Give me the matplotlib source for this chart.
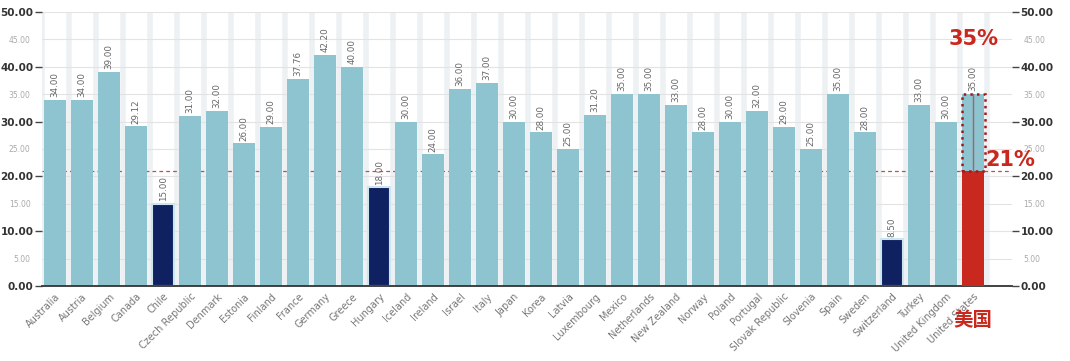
import matplotlib
matplotlib.use('Agg')
import matplotlib.pyplot as plt
from matplotlib.ticker import MultipleLocator
import numpy as np

plt.rcParams['font.family'] = ['DejaVu Sans', 'Noto Sans CJK SC']

countries = ['Australia', 'Austria', 'Belgium', 'Canada', 'Chile', 'Czech Republic', 'Denmark',
             'Estonia', 'Finland', 'France', 'Germany', 'Greece', 'Hungary', 'Iceland', 'Ireland',
             'Israel', 'Italy', 'Japan', 'Korea', 'Latvia', 'Luxembourg', 'Mexico', 'Netherlands',
             'New Zealand', 'Norway', 'Poland', 'Portugal', 'Slovak Republic', 'Slovenia', 'Spain',
             'Sweden', 'Switzerland', 'Turkey', 'United Kingdom', 'United States']
rates = [34.00, 34.00, 39.00, 29.12, 15.00, 31.00, 32.00, 26.00, 29.00, 37.76, 42.20, 40.00,
         18.00, 30.00, 24.00, 36.00, 37.00, 30.00, 28.00, 25.00, 31.20, 35.00, 35.00, 33.00,
         28.00, 30.00, 32.00, 29.00, 25.00, 35.00, 28.00, 8.50, 33.00, 30.00, 35.00]
low_countries = ['Chile', 'Hungary', 'Switzerland']
us_new_rate = 21
ref_line = 21

BLUE = '#8ec3d0'
NAVY = '#0f2160'
RED = '#c8281e'

fig = plt.figure(figsize=(10.7, 3.61), dpi=100)
ax = fig.add_axes([0.039, 0.208, 0.907, 0.759])

x = np.arange(len(countries))

# 竖向浅色条纹
for i in range(-1, len(countries)):
    ax.axvline(i + 0.5, color='#eef1f4', lw=4, zorder=0)
ax.yaxis.grid(True, which='both', color='#e3e3e3', lw=0.8, zorder=0)
ax.set_axisbelow(True)

colors = []
for c in countries:
    if c in low_countries:
        colors.append(NAVY)
    elif c == 'United States':
        colors.append(BLUE)
    else:
        colors.append(BLUE)
bars = ax.bar(x, rates, width=0.8, color=colors, zorder=2)
for c, b in zip(countries, bars):
    if c in low_countries:
        b.set_edgecolor('#cde5ee')
        b.set_linewidth(1.5)

# 美国：实际税率红柱 + 虚线框
us = countries.index('United States')
ax.bar(us, us_new_rate, width=0.8, color=RED, zorder=3)
ax.bar(us, rates[us] - us_new_rate, bottom=us_new_rate, width=0.85, fill=False,
       edgecolor='#a3161a', lw=1.8, ls=':', zorder=4)
ax.plot([us, us], [us_new_rate, rates[us]], color='#9a6868', lw=1, zorder=4)

# 数值标签
for xi, v in zip(x, rates):
    ax.text(xi, v + 0.5, f'{v:.2f}', rotation=90, ha='center', va='bottom',
            fontsize=6.3, color='#666666', zorder=5)

ax.axhline(ref_line, color='#c0504d', lw=0.9, ls=(0, (3, 2.5)), zorder=1)

ax.set_xlim(-0.5, 35.45)
ax.set_ylim(0, 50)
ax.yaxis.set_major_locator(MultipleLocator(10))
ax.yaxis.set_minor_locator(MultipleLocator(5))
ax.yaxis.set_major_formatter(lambda v, p: f'{v:.2f}')
ax.yaxis.set_minor_formatter(lambda v, p: f'{v:.2f}')
ax.tick_params(axis='y', which='major', left=True, right=True, labelleft=True, labelright=True,
               length=5, width=1, color='#444444', labelsize=7.5, labelcolor='#333333', pad=1)
ax.tick_params(axis='y', which='minor', left=False, right=False, labelleft=True, labelright=True,
               labelsize=5.5, labelcolor='#aaaaaa', pad=6)
for lab in ax.get_yticklabels():
    lab.set_fontweight('semibold')

ax.set_xticks(x)
ax.set_xticklabels(countries, rotation=45, ha='right', rotation_mode='anchor',
                   fontsize=7, color='#777777')
ax.tick_params(axis='x', length=0, pad=4)

for s in ['top', 'left', 'right']:
    ax.spines[s].set_visible(False)
ax.spines['bottom'].set_color('#333333')
ax.spines['bottom'].set_linewidth(1.3)

# 注释
ax.text(us, 45, '35%', color=RED, fontsize=15, fontweight='bold', ha='center', va='center',
        clip_on=False)
ax.text(us + 0.45, 23, '21%', color=RED, fontsize=15, fontweight='bold', ha='left', va='center',
        clip_on=False)
ax.text(us, -0.125, '美国', color=RED, fontsize=14, fontweight='bold', ha='center', va='center',
        family=['Noto Sans CJK SC', 'DejaVu Sans'], transform=ax.get_xaxis_transform(),
        clip_on=False, zorder=10)

fig.savefig('out.png', dpi=100)
